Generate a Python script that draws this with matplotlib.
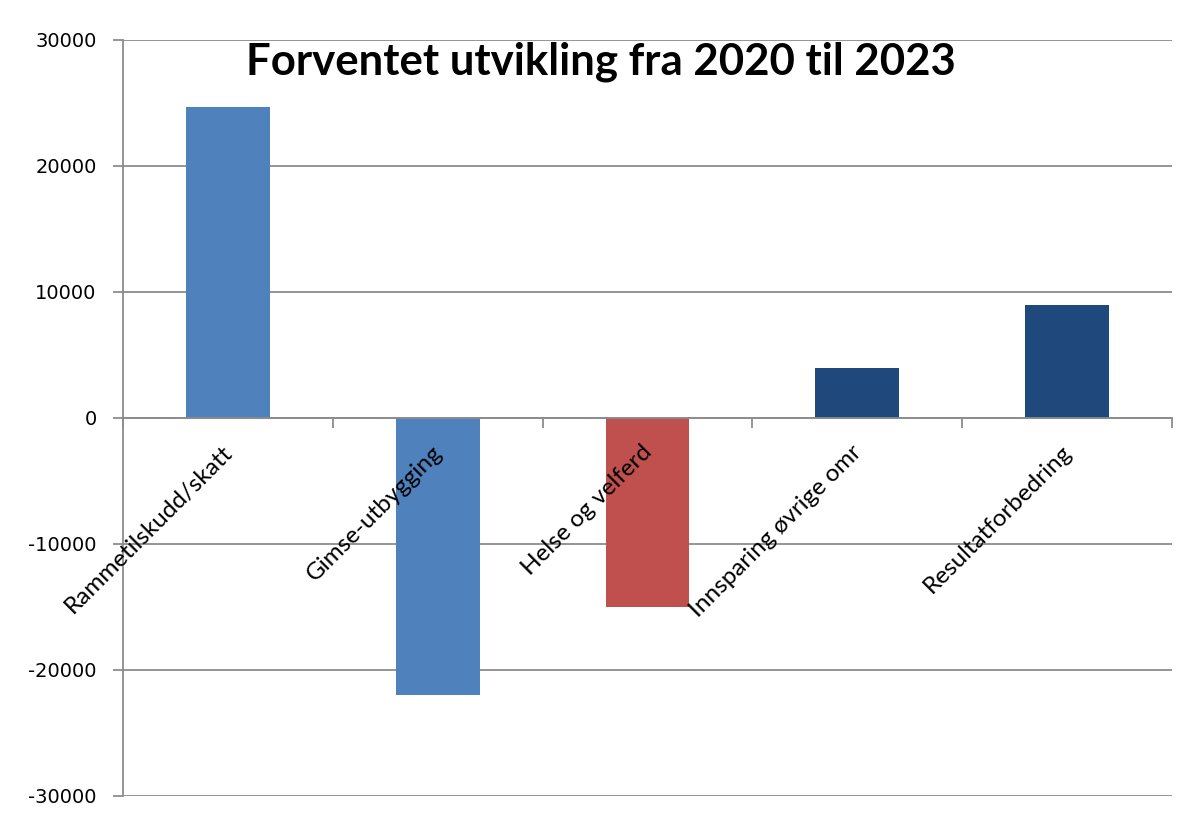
import numpy as np
import matplotlib.pyplot as plt
import matplotlib.transforms as mtransforms
from matplotlib.ticker import FixedLocator

# data
categories = ['Rammetilskudd/skatt', 'Gimse-utbygging', 'Helse og velferd',
              'Innsparing øvrige omr', 'Resultatforbedring']
values = [24700, -22000, -15000, 4000, 9000]
bar_colors = ['#4F81BD', '#4F81BD', '#C0504D', '#1F497D', '#1F497D']
yticks = [-30000, -20000, -10000, 0, 10000, 20000, 30000]
title = 'Forventet utvikling fra 2020 til 2023'

grid_col = '#8C8C8C'

fig = plt.figure(figsize=(11.89, 8.21), dpi=100)
ax = fig.add_axes([0.1034, 0.0305, 0.8823, 0.9208])

x = np.arange(len(categories))
ax.bar(x, values, width=0.4, color=bar_colors, zorder=2)

ax.set_xlim(-0.5, len(categories) - 0.5)
ax.set_ylim(-30000, 30000)
ax.set_yticks(yticks)
ax.set_yticklabels([str(v) for v in yticks], fontsize=14, family='DejaVu Sans')
ax.yaxis.grid(True, color=grid_col, linewidth=1.3, zorder=0)
ax.tick_params(axis='y', length=7, color=grid_col, width=1.3, pad=12)

# category axis sits on zero
ax.spines['bottom'].set_position(('data', 0))
ax.spines['bottom'].set_color(grid_col)
ax.spines['bottom'].set_linewidth(1.3)
ax.spines['left'].set_color(grid_col)
ax.spines['left'].set_linewidth(1.3)
ax.spines['top'].set_visible(False)
ax.spines['right'].set_visible(False)

ax.set_xticks(x)
ax.xaxis.set_minor_locator(FixedLocator(np.arange(-0.5, len(categories), 1.0)))
ax.tick_params(axis='x', which='major', length=0, pad=17)
ax.tick_params(axis='x', which='minor', length=7, color=grid_col, width=1.3)
ax.set_xticklabels(categories, rotation=45, ha='right', va='top',
                   rotation_mode='anchor', fontsize=17.5, family='Lato')
shift = mtransforms.ScaledTranslation(-6 / 100, 0, fig.dpi_scale_trans)
for lab in ax.get_xticklabels():
    lab.set_transform(lab.get_transform() + shift)
ax.xaxis.set_zorder(5)

ax.text(0.456, 0.9537, title, transform=ax.transAxes, ha='center', va='baseline',
        fontsize=31.5, fontweight='bold', family='Lato')

fig.savefig('out.png', dpi=100)
